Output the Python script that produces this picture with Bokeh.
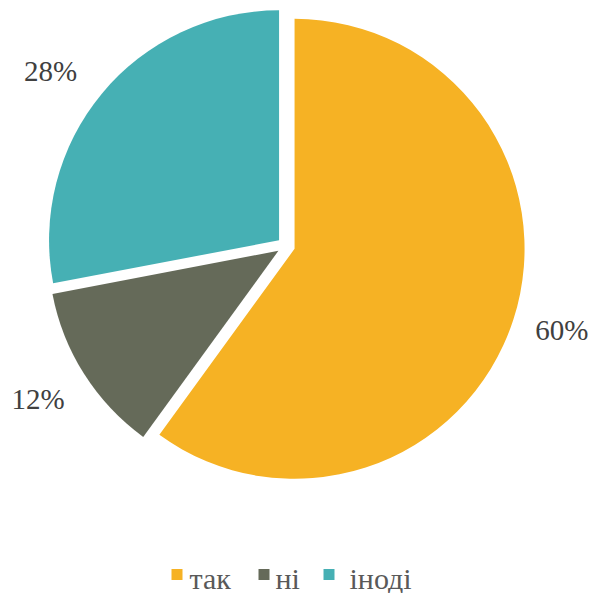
import numpy as np
from bokeh.plotting import figure
from bokeh.models import Range1d, ColumnDataSource
from bokeh.core.properties import value
from bokeh.embed import file_html
from bokeh.resources import INLINE

# data
categories = ["так", "ні", "іноді"]
values = [60, 12, 28]
labels = ["60%", "12%", "28%"]
colors = ["#F6B224", "#656A59", "#46B0B4"]

# layout nudges for the percentage labels (pixels)
label_dx = [0, -3, -12]
label_dy = [6, 2, -10]

FONT = value("Liberation Serif")

W = H = 593
p = figure(width=W, height=H, x_range=Range1d(0, W), y_range=Range1d(0, H),
           output_backend="svg", toolbar_location=None, min_border=0)
p.axis.visible = False
p.grid.visible = False
p.outline_line_color = None

cx, cy = 285.5, 347.5
r = 230
explode = 9
label_r = 290

frac = np.array(values, dtype=float) / sum(values)
ends = np.cumsum(frac) * 2 * np.pi
starts = ends - frac * 2 * np.pi
start_angle = np.pi / 2 - starts
end_angle = np.pi / 2 - ends
mid = (start_angle + end_angle) / 2

src = ColumnDataSource(dict(
    x=cx + explode * np.cos(mid), y=cy + explode * np.sin(mid),
    sa=start_angle, ea=end_angle, color=colors,
    lx=cx + label_r * np.cos(mid) + np.array(label_dx),
    ly=cy + label_r * np.sin(mid) + np.array(label_dy),
    label=labels,
))
p.wedge(x="x", y="y", radius=r, start_angle="sa", end_angle="ea",
        direction="clock", fill_color="color", line_color=None, source=src)
p.text(x="lx", y="ly", text="label", source=src, text_font=FONT,
       text_font_size="29px", text_color="#404040", text_align="center",
       text_baseline="middle")

# legend drawn manually
key_x = [176.5, 263.5, 328.5]
text_x = [189, 275, 349]
key_y = 19
leg = ColumnDataSource(dict(kx=key_x, tx=text_x, ky=[key_y] * 3, ty=[15.5] * 3,
                            color=colors, name=categories))
p.scatter(x="kx", y="ky", marker="square", size=11, fill_color="color",
          line_color=None, source=leg)
p.text(x="tx", y="ty", text="name", source=leg, text_font=FONT,
       text_font_size="30px", text_color="#595959", text_align="left",
       text_baseline="alphabetic")

open("out.html", "w").write(file_html(p, INLINE))
